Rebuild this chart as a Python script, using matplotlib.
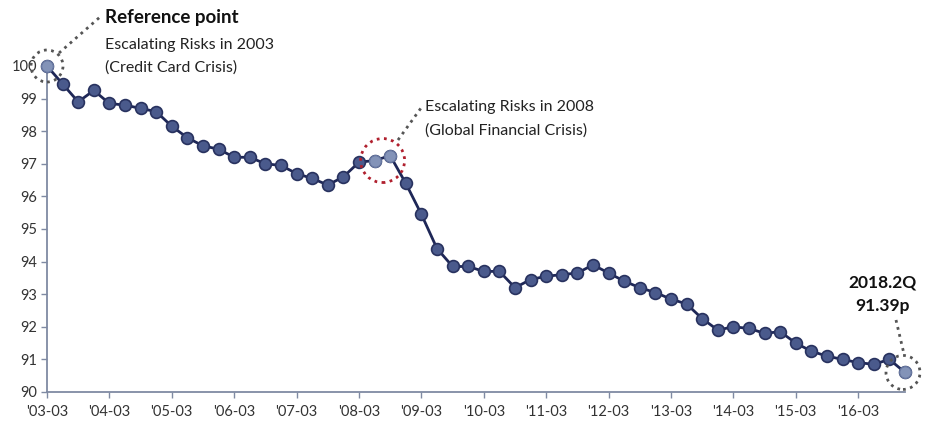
import numpy as np
import matplotlib.pyplot as plt
from matplotlib.patches import Ellipse
from matplotlib.lines import Line2D

plt.rcParams['font.family'] = ['Lato', 'DejaVu Sans']

# index values, one per quarter
values = [100.0, 99.45, 98.9, 99.25, 98.85, 98.8, 98.7, 98.6,
          98.15, 97.8, 97.55, 97.45, 97.2, 97.2, 97.0, 96.95,
          96.7, 96.55, 96.35, 96.6, 97.05, 97.1, 97.25, 96.4,
          95.45, 94.4, 93.85, 93.85, 93.7, 93.7, 93.2, 93.45,
          93.55, 93.6, 93.65, 93.9, 93.65, 93.4, 93.2, 93.05,
          92.85, 92.7, 92.25, 91.9, 92.0, 91.95, 91.8, 91.85,
          91.5, 91.25, 91.1, 91.0, 90.9, 90.85, 91.0, 90.6]
year_labels = ["'03-03", "'04-03", "'05-03", "'06-03", "'07-03", "'08-03", "'09-03",
               "'10-03", "'11-03", "'12-03", "'13-03", "'14-03", "'15-03", "'16-03"]
highlight = [0, 21, 22, 55]

x = np.arange(len(values))
y = np.array(values)

W, H = 930, 423
fig = plt.figure(figsize=(W / 100, H / 100), dpi=100)
ax = fig.add_axes([47 / W, 1 - 392 / H, (905 - 47) / W, (392 - 66) / H])

navy = '#1e2757'
ax.plot(x, y, '-', color=navy, lw=2.0, zorder=3, clip_on=False)
ax.plot(x, y, 'o', ms=8.5, mfc='#4a5a8c', mec='#28325f', mew=1.2, zorder=4, clip_on=False)
ax.plot(x[highlight], y[highlight], 'o', ms=8.5, mfc='#8393b8', mec='#6777a0', mew=1.0,
        zorder=5, clip_on=False)

ax.set_xlim(0, len(values) - 1)
ax.set_ylim(90, 100)
ax.set_yticks(np.arange(90, 101, 1))
ax.set_xticks(np.arange(0, 4 * len(year_labels), 4))
ax.set_xticklabels(year_labels)

for s in ['top', 'right']:
    ax.spines[s].set_visible(False)
for s in ['left', 'bottom']:
    ax.spines[s].set_color('#7f8aa3')
    ax.spines[s].set_linewidth(1.3)
ax.tick_params(axis='both', direction='out', length=4, width=1.0, color='#7f8aa3',
               labelsize=10.5, labelcolor='#333333')
ax.tick_params(axis='x', pad=5)
ax.tick_params(axis='y', pad=3)

# pixel scale of data units
p0 = ax.transData.transform((0, 90))
p1 = ax.transData.transform((1, 91))
sx, sy = p1[0] - p0[0], p1[1] - p0[1]


def ring(i, r, color, dx=0.0, dy=0.0):
    e = Ellipse((x[i] + dx / sx, y[i] + dy / sy), 2 * r / sx, 2 * r / sy, fill=False,
                ec=color, lw=2.0, ls=(0, (1, 1.6)), zorder=6, clip_on=False)
    ax.add_patch(e)


def leader(x0, y0, x1, y1):
    fig.add_artist(Line2D([x0 / W, x1 / W], [1 - y0 / H, 1 - y1 / H], color='#555555',
                          lw=2.0, ls=(0, (1, 1.6)), transform=fig.transFigure))


ring(0, 16, '#555555')
ring(21, 22, '#b0202e', dx=8)
ring(55, 17, '#555555', dx=-2)

leader(59, 53, 100, 17)
leader(398, 140, 421, 108)
leader(896, 320, 904, 354)

fig.text(105 / W, 1 - 17 / H, 'Reference point', fontsize=13.5, fontweight='bold',
         color='#111111', va='center', ha='left')
fig.text(105 / W, 1 - 45 / H, 'Escalating Risks in 2003', fontsize=11.5,
         color='#222222', va='center', ha='left')
fig.text(105 / W, 1 - 68 / H, '(Credit Card Crisis)', fontsize=11.5,
         color='#222222', va='center', ha='left')
fig.text(425 / W, 1 - 107 / H, 'Escalating Risks in 2008', fontsize=11.5,
         color='#222222', va='center', ha='left')
fig.text(425 / W, 1 - 131 / H, '(Global Financial Crisis)', fontsize=11.5,
         color='#222222', va='center', ha='left')
fig.text(882 / W, 1 - 283 / H, '2018.2Q', fontsize=12.5, fontweight='bold',
         color='#111111', va='center', ha='center')
fig.text(882 / W, 1 - 306 / H, '91.39p', fontsize=12.5, fontweight='bold',
         color='#111111', va='center', ha='center')

fig.savefig('out.png', dpi=100)
